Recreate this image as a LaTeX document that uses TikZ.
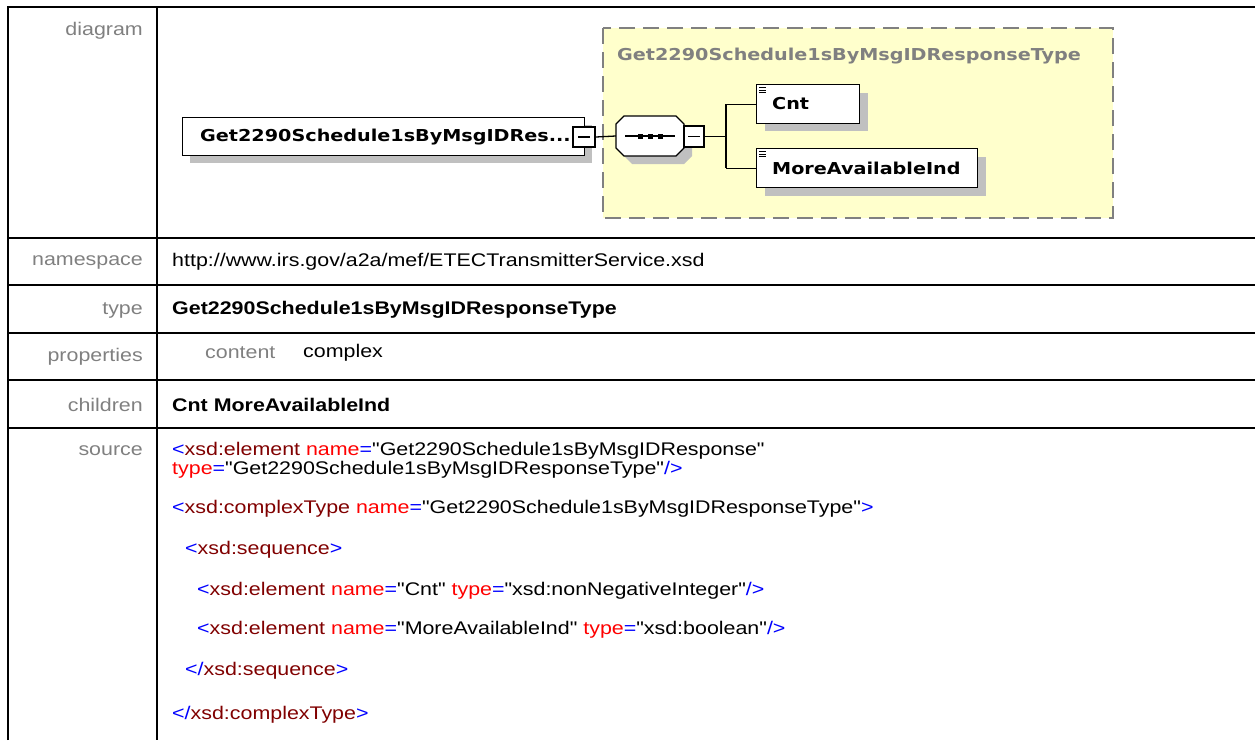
\documentclass[tikz,border=0pt]{standalone}
\usepackage{fontspec}
\setmainfont{Liberation Sans}[FakeStretch=1.17]
\newfontfamily\codefont{Liberation Sans}[FakeStretch=1.17]
\newfontfamily\dgfont{DejaVu Sans}[FakeStretch=1.17]
\definecolor{xblue}{RGB}{0,0,255}
\definecolor{xmaroon}{RGB}{128,0,0}
\definecolor{xred}{RGB}{255,0,0}
\definecolor{lblgray}{RGB}{128,128,128}
\definecolor{shadowgray}{RGB}{192,192,192}
\definecolor{ylw}{RGB}{255,255,204}
\newcommand{\cB}[1]{\textcolor{xblue}{#1}}
\newcommand{\cM}[1]{\textcolor{xmaroon}{#1}}
\newcommand{\cR}[1]{\textcolor{xred}{#1}}
\tikzset{
  grid line/.style={line width=2pt, black},
  rowlabel/.style={anchor=east, text=lblgray, inner sep=0pt, font=\fontsize{18.3}{21}\selectfont},
  cell/.style={anchor=west, inner sep=0pt, font=\fontsize{18.3}{21}\selectfont},
  code/.style={anchor=west, inner sep=0pt, font=\codefont\fontsize{18.3}{21}\selectfont},
  elbox/.style={draw=black, line width=1.3pt, fill=white},
  shadowbox/.style={fill=shadowgray, draw=none},
  dgtext/.style={anchor=west, inner sep=0pt, font=\dgfont\bfseries\fontsize{16.4}{19}\selectfont},
  wire/.style={draw=black, line width=1.3pt},
}
\begin{document}
\begin{tikzpicture}[x=1pt, y=-1pt]
\useasboundingbox (0,0) rectangle (1255,740);
% table grid
\draw[grid line] (8,740) -- (8,7) -- (1256,7);
\draw[grid line] (157,7) -- (157,740);
\foreach \yy in {238,285,333,380,428} {\draw[grid line] (8,\yy) -- (1256,\yy);}
% row labels
\node[rowlabel] (ldiag) at (143,31) {diagram};
\node[rowlabel] (lns) at (143,262) {namespace};
\node[rowlabel] (ltype) at (143,310) {type};
\node[rowlabel] (lprop) at (143,357) {properties};
\node[rowlabel] (lchild) at (143,405) {children};
\node[rowlabel] (lsrc) at (143,451) {source};
% cells
\node[cell] (ns) at (172,262) {http://www.irs.gov/a2a/mef/ETECTransmitterService.xsd};
\node[cell] (typ) at (172,310) {\bfseries Get2290Schedule1sByMsgIDResponseType};
\node[cell, text=lblgray] (pc) at (205,353) {content};
\node[cell] (pv) at (303,353) {complex};
\node[cell] (ch) at (172,405) {\bfseries Cnt MoreAvailableInd};
% source
\node[code] (s1) at (172,451) {\cB{<}\cM{xsd:element} \cR{name}\cB{=}"Get2290Schedule1sByMsgIDResponse"};
\node[code] (s2) at (172,470) {\cR{type}\cB{=}"Get2290Schedule1sByMsgIDResponseType"\cB{/>}};
\node[code] (s3) at (172,509) {\cB{<}\cM{xsd:complexType} \cR{name}\cB{=}"Get2290Schedule1sByMsgIDResponseType"\cB{>}};
\node[code] (s4) at (185,550) {\cB{<}\cM{xsd:sequence}\cB{>}};
\node[code] (s5) at (197,591) {\cB{<}\cM{xsd:element} \cR{name}\cB{=}"Cnt" \cR{type}\cB{=}"xsd:nonNegativeInteger"\cB{/>}};
\node[code] (s6) at (197,630) {\cB{<}\cM{xsd:element} \cR{name}\cB{=}"MoreAvailableInd" \cR{type}\cB{=}"xsd:boolean"\cB{/>}};
\node[code] (s7) at (185,671) {\cB{</}\cM{xsd:sequence}\cB{>}};
\node[code] (s8) at (172,715) {\cB{</}\cM{xsd:complexType}\cB{>}};
% ---------- diagram ----------
% yellow type box
\draw[fill=ylw, draw=lblgray, line width=1.5pt, dash pattern=on 16pt off 8pt] (603,28) rectangle (1113,218);
\node[dgtext, text=lblgray] (ttl) at (617,56) {Get2290Schedule1sByMsgIDResponseType};
% main element
\fill[shadowbox] (190,125) rectangle (592,163);
\node[elbox, minimum width=402pt, minimum height=38pt, anchor=north west, inner sep=0pt] (main) at (182,117) {};
\node[dgtext] (maintxt) at (200,137) {Get2290Schedule1sByMsgIDRes...};
\node[elbox, minimum width=22pt, minimum height=20pt, inner sep=0pt] (mminus) at (584,137) {};
\draw[line width=1.3pt] (578,137) -- (590,137);
% sequence compositor
\fill[shadowbox] (632,124) -- (684,124) -- (692,132) -- (692,156) -- (684,164) -- (632,164) -- (624,156) -- (624,132) -- cycle;
\node[minimum width=68pt, minimum height=40pt, inner sep=0pt] (seq) at (650,136) {};
\draw[elbox] (624,116) -- (676,116) -- (684,124) -- (684,148) -- (676,156) -- (624,156) -- (616,148) -- (616,124) -- cycle;
\draw[line width=1.3pt] (625,136) -- (675,136);
\foreach \dx in {640,650,660} {\fill (\dx-2.5,133.5) rectangle (\dx+2.5,138.5);}
\node[elbox, minimum width=20pt, minimum height=21pt, inner sep=0pt] (sminus) at (694,136.5) {};
\draw[line width=1.3pt] (688,136.5) -- (700,136.5);
\draw[wire] (mminus.east) -- (seq.west);
% children
\fill[shadowbox] (765,93) rectangle (868,131);
\node[elbox, minimum width=103pt, minimum height=39pt, anchor=north west, inner sep=0pt] (cnt) at (756,84) {};
\fill[shadowbox] (765,157) rectangle (986,196);
\node[elbox, minimum width=221pt, minimum height=39pt, anchor=north west, inner sep=0pt] (mai) at (756,148) {};
\foreach \bx/\by in {756/84, 756/148} {
  \foreach \k in {0,2.5,5} {\draw[line width=0.9pt] (\bx+3,\by+3.5+\k) -- (\bx+10,\by+3.5+\k);}
}
\node[dgtext] (cnttxt) at (772,104) {Cnt};
\node[dgtext] (maitxt) at (772,168) {MoreAvailableInd};
\coordinate (fork) at (726,136.5);
\draw[wire] (sminus.east) -- (fork);
\draw[wire] (fork |- cnt.west) -- (fork |- mai.west);
\draw[wire] (fork |- cnt.west) -- (cnt.west);
\draw[wire] (fork |- mai.west) -- (mai.west);
\end{tikzpicture}
\end{document}
